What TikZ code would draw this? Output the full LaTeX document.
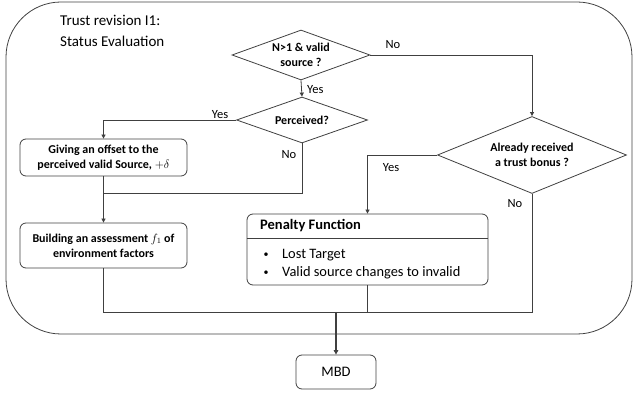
\documentclass[tikz,border=0pt]{standalone}
\usepackage{fontspec}
\setmainfont{Carlito}
\usetikzlibrary{arrows.meta,shapes.geometric,calc}
\definecolor{ln}{HTML}{404040}
\begin{document}
\begin{tikzpicture}[x=1pt,y=-1pt,
  line/.style={draw=ln,line width=0.8pt},
  arr/.style={line,-{Triangle[length=4pt,width=4pt]}},
  dia/.style={draw=ln,line width=0.8pt,diamond,inner sep=0pt},
  rbox/.style={draw=ln,line width=0.8pt,rounded corners=6pt,align=center,inner sep=0pt},
  diatext/.style={font=\fontsize{12}{15}\selectfont\bfseries,align=center},
  lab/.style={font=\fontsize{12.5}{14}\selectfont,inner sep=0pt},
  ptext/.style={anchor=west,inner sep=0pt,font=\fontsize{14.4}{17}\selectfont}]
\useasboundingbox (0,0) rectangle (633,395);
% outer frame
\path[draw=ln,line width=0.8pt,rounded corners=55pt] (6,2) rectangle (632,334);
\node[anchor=north west,align=left,inner sep=0pt,font=\fontsize{15}{20.5}\selectfont] (title) at (60,15) {Trust revision I1:\\Status Evaluation};
% diamonds
\node[dia,minimum width=138pt,minimum height=50pt,label={[diatext]center:N>1 \& valid\\source ?}] (d1) at (301,55) {};
\node[dia,minimum width=131pt,minimum height=46pt,label={[diatext]center:Perceived?}] (d2) at (302,120) {};
\node[dia,minimum width=189pt,minimum height=77pt,label={[diatext]center:Already received\\a trust bonus ?}] (d3) at (532,155) {};
% boxes
\node[rbox,minimum width=167pt,minimum height=37pt,font=\fontsize{12}{15}\selectfont\bfseries] (b1) at (103.5,157.5) {Giving an offset to the\\perceived valid Source, $+\delta$};
\node[rbox,minimum width=167pt,minimum height=45pt,font=\fontsize{12}{15}\selectfont\bfseries] (b2) at (103.5,245.5) {Building an assessment $f_1$ of\\environment factors};
\node[rbox,minimum width=241pt,minimum height=71pt] (pen) at (367.5,249.5) {};
\draw[line] (pen.west |- 0,238) -- (pen.east |- 0,238);
\node[anchor=west,inner sep=0pt,font=\fontsize{14.5}{17}\selectfont\bfseries] (penh) at (260,226) {Penalty Function};
\node[anchor=center,inner sep=0pt,font=\fontsize{10}{12}\selectfont] (bu1) at (266,255) {•};
\node[anchor=center,inner sep=0pt,font=\fontsize{10}{12}\selectfont] (bu2) at (266,273) {•};
\node[ptext] (p1) at (282,255) {Lost Target};
\node[ptext] (p2) at (282,273) {Valid source changes to invalid};
\node[rbox,minimum width=80pt,minimum height=34pt,font=\fontsize{14.5}{17}\selectfont] (mbd) at (336,372) {MBD};
% junctions
\coordinate (j1) at (103.5,193);
\coordinate (j2) at (336,312);
% connectors
\draw[arr] (d1.south) -- (d2.north);
\node[lab,anchor=west] (y1) at (307,90) {Yes};
\draw[arr] (d2.west) -| (b1.north);
\node[lab] (y2) at (220,115) {Yes};
\draw[line] (d2.south) |- (j1);
\node[lab] (n2) at (289,155) {No};
\draw[arr] (b1.south) -- (b2.north);
\draw[arr] (d1.east) -| (d3.north);
\node[lab] (n1) at (393,45) {No};
\draw[arr] (d3.west) -| (pen.north);
\node[lab] (y3) at (391,168) {Yes};
\draw[line] (d3.south) |- (j2);
\node[lab] (n3) at (515,204) {No};
\draw[line] (b2.south) |- (j2);
\draw[line] (pen.south) -- (pen.south |- j2);
\draw[draw=ln,line width=1.4pt,-{Triangle[length=4.5pt,width=4.5pt]}] (j2) -- (mbd.north);
\end{tikzpicture}
\end{document}
